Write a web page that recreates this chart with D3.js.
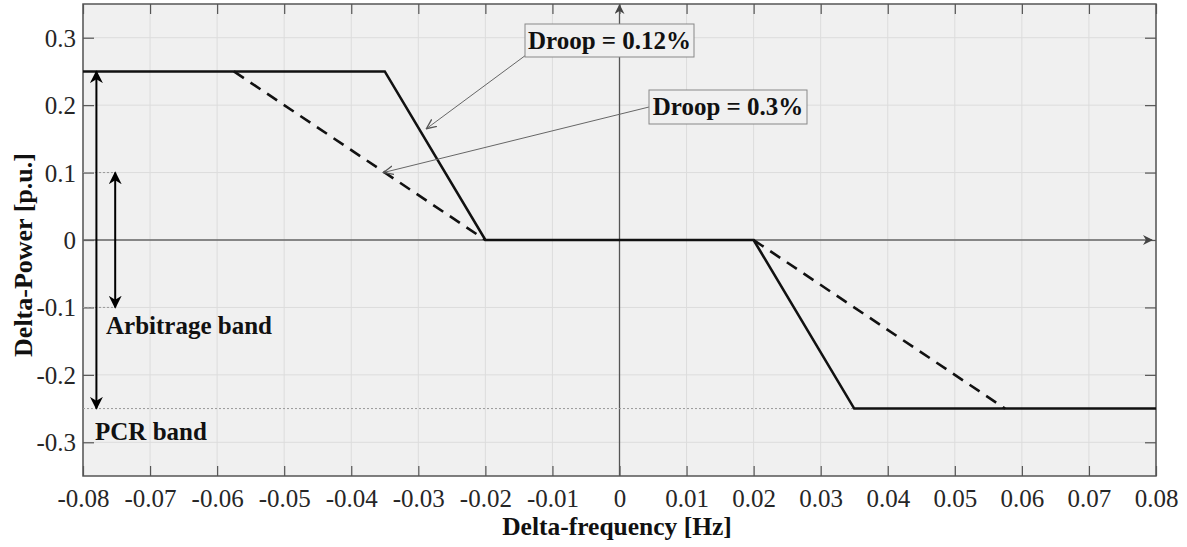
<!DOCTYPE html>
<html><head><meta charset="utf-8">
<script src="https://cdn.jsdelivr.net/npm/d3@7"></script>
<style>body{margin:0;background:#fff;} text{font-family:"Liberation Serif","Times New Roman",serif;}</style>
</head><body><svg id="c" width="1187" height="547"></svg>
<script>
// ---- data ----
const xTicks = [-0.08,-0.07,-0.06,-0.05,-0.04,-0.03,-0.02,-0.01,0,0.01,0.02,0.03,0.04,0.05,0.06,0.07,0.08];
const xTickLabels = ["-0.08","-0.07","-0.06","-0.05","-0.04","-0.03","-0.02","-0.01","0","0.01","0.02","0.03","0.04","0.05","0.06","0.07","0.08"];
const yTicks = [-0.3,-0.2,-0.1,0,0.1,0.2,0.3];
const yTickLabels = ["-0.3","-0.2","-0.1","0","0.1","0.2","0.3"];
const droop012X = [-0.08,-0.035,-0.02,0.02,0.035,0.08];
const droop012Y = [0.25,0.25,0,0,-0.25,-0.25];
const droop03LeftX = [-0.0575,-0.02];
const droop03LeftY = [0.25,0];
const droop03RightX = [0.02,0.0575];
const droop03RightY = [0,-0.25];
const pcrBand = [0.25,-0.25];
const arbBand = [0.1,-0.1];

const svg = d3.select("#c");
const L=83,R=1156,T=4,B=476;
const x = d3.scaleLinear().domain([-0.08,0.08]).range([L,R]);
const y = d3.scaleLinear().domain([-0.35,0.35]).range([B,T]);
const SERIF = "'Liberation Serif','Times New Roman',serif";

const defs = svg.append("defs");
function arrowMarker(id,color,size){
  defs.append("marker").attr("id",id).attr("viewBox","0 0 10 10").attr("refX",9).attr("refY",5)
   .attr("markerWidth",size).attr("markerHeight",size).attr("markerUnits","userSpaceOnUse").attr("orient","auto-start-reverse")
   .append("path").attr("d","M0,0 L10,5 L0,10 L3,5 Z").attr("fill",color);
}
arrowMarker("ab","#000",13);
arrowMarker("ag","#444",10);
defs.append("marker").attr("id","ao").attr("viewBox","0 0 10 10").attr("refX",9).attr("refY",5)
   .attr("markerWidth",11).attr("markerHeight",11).attr("markerUnits","userSpaceOnUse").attr("orient","auto")
   .append("path").attr("d","M0,1 L9,5 L0,9").attr("fill","none").attr("stroke","#555").attr("stroke-width",1.2);

// background
svg.append("rect").attr("x",L).attr("y",T).attr("width",R-L).attr("height",B-T).attr("fill","#f0f0f0");
// grid
svg.append("g").selectAll("line").data(xTicks).join("line")
  .attr("x1",d=>x(d)).attr("x2",d=>x(d)).attr("y1",T).attr("y2",B).attr("stroke","#dcdcdc").attr("stroke-width",1);
svg.append("g").selectAll("line").data(yTicks).join("line")
  .attr("y1",d=>y(d)).attr("y2",d=>y(d)).attr("x1",L).attr("x2",R).attr("stroke","#dcdcdc").attr("stroke-width",1);

// axes via d3 axes (inner ticks)
const fmtX = (d,i)=>xTickLabels[i];
const fmtY = (d,i)=>yTickLabels[i];
const gx = svg.append("g").attr("transform",`translate(0,${B})`)
  .call(d3.axisBottom(x).tickValues(xTicks).tickFormat(fmtX).tickSizeInner(-10).tickSizeOuter(0).tickPadding(13));
const gxt = svg.append("g").attr("transform",`translate(0,${T})`)
  .call(d3.axisTop(x).tickValues(xTicks).tickFormat("").tickSizeInner(-10).tickSizeOuter(0));
const gy = svg.append("g").attr("transform",`translate(${L},0)`)
  .call(d3.axisLeft(y).tickValues(yTicks).tickFormat(fmtY).tickSizeInner(-11).tickSizeOuter(0).tickPadding(7));
const gyr = svg.append("g").attr("transform",`translate(${R},0)`)
  .call(d3.axisRight(y).tickValues(yTicks).tickFormat("").tickSizeInner(-11).tickSizeOuter(0));
[gx,gxt,gy,gyr].forEach(g=>{
  g.select(".domain").remove();
  g.selectAll(".tick line").attr("stroke","#555").attr("stroke-width",1.2);
  g.selectAll("text").attr("fill","#262626").style("font-size","25px").style("font-family",SERIF);
});
gy.selectAll("text").attr("dy","0.34em");

// box
svg.append("rect").attr("x",L).attr("y",T).attr("width",R-L).attr("height",B-T)
  .attr("fill","none").attr("stroke","#555").attr("stroke-width",1.5);

// zero axes with arrows
svg.append("line").attr("x1",L).attr("x2",R-4).attr("y1",y(0)).attr("y2",y(0))
  .attr("stroke","#666").attr("stroke-width",1.3).attr("marker-end","url(#ag)");
svg.append("line").attr("x1",x(0)).attr("x2",x(0)).attr("y1",B).attr("y2",T+1)
  .attr("stroke","#555").attr("stroke-width",1.3).attr("marker-end","url(#ag)");

// dotted guide lines
const dot = (x1,x2,yy)=>svg.append("line").attr("x1",x(x1)).attr("x2",x(x2)).attr("y1",y(yy)).attr("y2",y(yy))
  .attr("stroke","#999").attr("stroke-width",1).attr("stroke-dasharray","2,2");
dot(-0.08,-0.0752,arbBand[0]);
dot(-0.08,-0.0752,arbBand[1]);
dot(-0.08,0.035,pcrBand[1]);

const line = d3.line().x(d=>x(d[0])).y(d=>y(d[1]));
// droop 0.3% dashed
svg.append("path").datum(d3.zip(droop03LeftX,droop03LeftY)).attr("d",line)
  .attr("fill","none").attr("stroke","#111").attr("stroke-width",2.6).attr("stroke-dasharray","12,8");
svg.append("path").datum(d3.zip(droop03RightX,droop03RightY)).attr("d",line)
  .attr("fill","none").attr("stroke","#111").attr("stroke-width",2.6).attr("stroke-dasharray","12,8");
// droop 0.12% solid
svg.append("path").datum(d3.zip(droop012X,droop012Y)).attr("d",line)
  .attr("fill","none").attr("stroke","#111").attr("stroke-width",2.6).attr("stroke-linejoin","miter");

// band double arrows
svg.append("line").attr("x1",x(-0.078)).attr("x2",x(-0.078)).attr("y1",y(pcrBand[1])).attr("y2",y(pcrBand[0]))
  .attr("stroke","#000").attr("stroke-width",2).attr("marker-start","url(#ab)").attr("marker-end","url(#ab)");
svg.append("line").attr("x1",x(-0.0752)).attr("x2",x(-0.0752)).attr("y1",y(arbBand[1])).attr("y2",y(arbBand[0]))
  .attr("stroke","#000").attr("stroke-width",2).attr("marker-start","url(#ab)").attr("marker-end","url(#ab)");

// annotations
function annot(label,bx,by,bw,bh,tx,ty,ax,ay){
  svg.append("line").attr("x1",ax).attr("y1",ay).attr("x2",x(tx)).attr("y2",y(ty))
    .attr("stroke","#666").attr("stroke-width",1).attr("marker-end","url(#ao)");
  svg.append("rect").attr("x",bx).attr("y",by).attr("width",bw).attr("height",bh)
    .attr("fill","#f0f0f0").attr("stroke","#888").attr("stroke-width",1);
  svg.append("text").attr("x",bx+bw/2).attr("y",by+bh/2+8).attr("text-anchor","middle")
    .style("font-size","25px").style("font-weight","bold").attr("fill","#111").text(label);
}
annot("Droop = 0.12%",525,24,169,33,-0.0288,0.165,526,55);
annot("Droop = 0.3%",649,90,158,34,-0.0352,0.1,649,107);

// band labels
svg.append("text").attr("x",106).attr("y",334).style("font-size","25px").style("font-weight","bold").attr("fill","#111").text("Arbitrage band");
svg.append("text").attr("x",95).attr("y",440).style("font-size","25px").style("font-weight","bold").attr("fill","#111").text("PCR band");

// axis titles
svg.append("text").attr("x",617).attr("y",535).attr("text-anchor","middle")
  .style("font-size","25.5px").style("font-weight","bold").attr("fill","#111").text("Delta-frequency [Hz]");
svg.append("text").attr("transform",`translate(32,255) rotate(-90)`).attr("text-anchor","middle")
  .style("font-size","26px").style("font-weight","bold").attr("fill","#111").text("Delta-Power [p.u.]");
</script></body></html>
